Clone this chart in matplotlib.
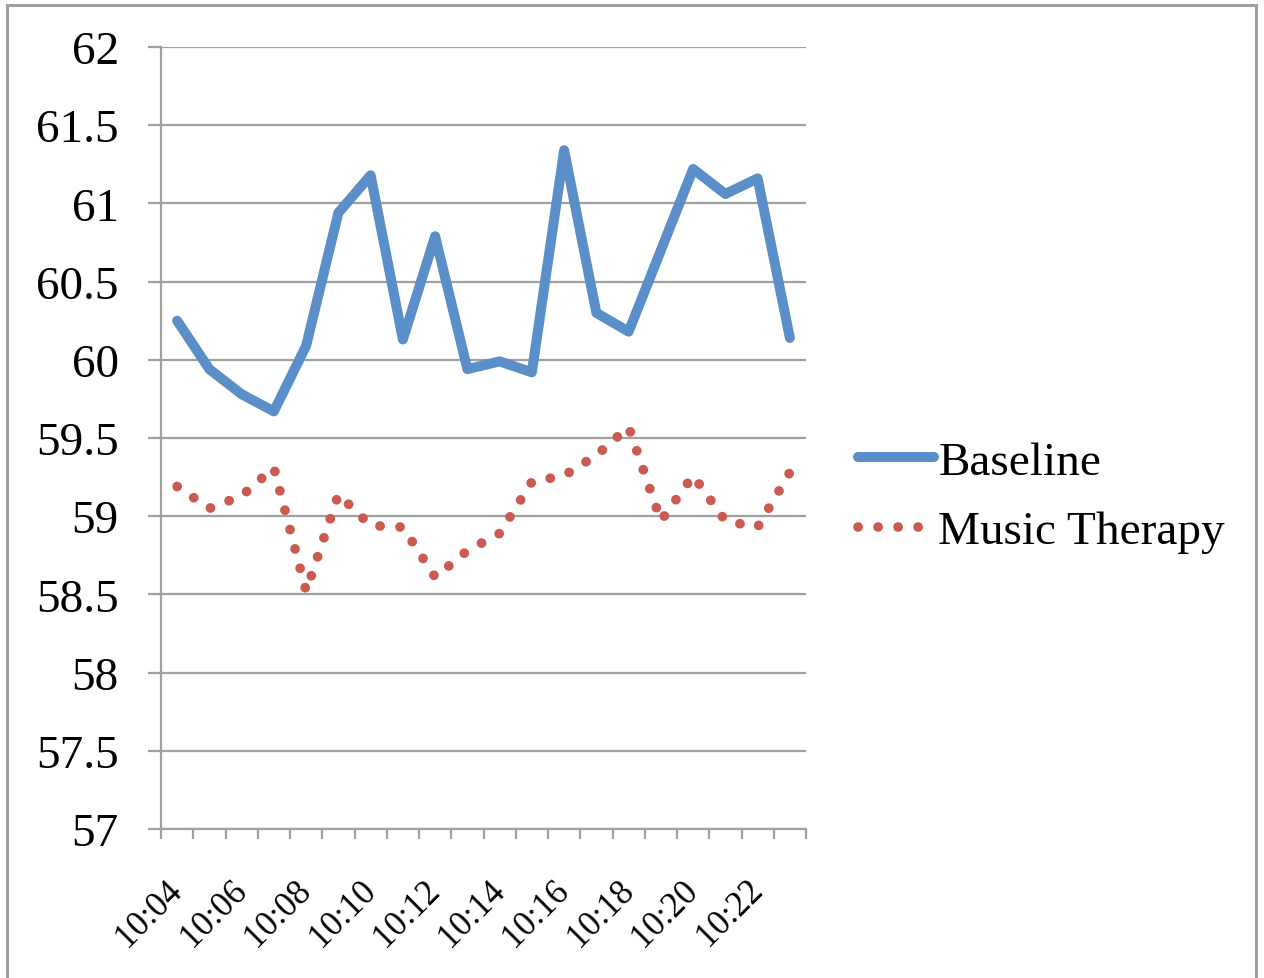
import matplotlib
matplotlib.use("Agg")
import matplotlib.pyplot as plt
from matplotlib.patches import Rectangle
import numpy

times = ['10:04', '10:05', '10:06', '10:07', '10:08', '10:09', '10:10',
         '10:11', '10:12', '10:13', '10:14', '10:15', '10:16', '10:17',
         '10:18', '10:19', '10:20', '10:21', '10:22', '10:23']

baseline = [60.25, 59.94, 59.78, 59.67, 60.09, 60.94, 61.18, 60.13, 60.79, 59.94,
            59.99, 59.92, 61.34, 60.30, 60.18, 60.70, 61.22, 61.06, 61.16, 60.14]

music = [59.19, 59.05, 59.13, 59.31, 58.52, 59.14, 58.94, 58.93, 58.61, 58.78,
         58.89, 59.22, 59.26, 59.39, 59.57, 58.97, 59.26, 58.97, 58.93, 59.28]

yticks = [57, 57.5, 58, 58.5, 59, 59.5, 60, 60.5, 61, 61.5, 62]

plt.rcParams['font.family'] = ['Liberation Serif', 'DejaVu Serif']
gray = '#A0A0A0'

fig = plt.figure(figsize=(12.64, 9.79), dpi=100)
ax = fig.add_axes([161/1264, 1 - 830/979, 645/1264, 782/979])

x = numpy.arange(len(times))
ax.plot(x, baseline, color='#5B8FC9', lw=7.2, solid_joinstyle='round',
        solid_capstyle='round', label='Baseline', zorder=3)
# round-dot line: near-zero dashes with round caps
ax.plot(x, music, color='#CB5A50', lw=7, linestyle=(0, (0.01, 2.05)),
        dash_capstyle='round', label='Music Therapy', zorder=3)

ax.set_xlim(-0.5, len(times) - 0.5)
ax.set_ylim(57, 62)

# y axis: gridlines run through the outward tick marks
ax.set_yticks(yticks)
ax.set_yticklabels(['57', '57.5', '58', '58.5', '59', '59.5', '60', '60.5', '61', '61.5', '62'])
ax.yaxis.grid(True, color=gray, lw=1.6)
ax.tick_params(axis='y', length=9.4, width=1.6, color=gray, pad=21, labelsize=34)

# x axis: tick marks between categories, labels on every other category
ax.set_xticks(x[::2])
ax.set_xticklabels(times[::2])
ax.set_xticks(numpy.arange(-0.5, len(times), 1), minor=True)
ax.tick_params(axis='x', which='major', length=0, pad=40, labelsize=25)
ax.tick_params(axis='x', which='minor', length=7.4, width=1.6, color=gray)
for lbl in ax.get_xticklabels():
    lbl.set_rotation(45)
    lbl.set_ha('right')
    lbl.set_va('center')
    lbl.set_rotation_mode('anchor')

for side in ['top', 'right']:
    ax.spines[side].set_visible(False)
for side in ['left', 'bottom']:
    ax.spines[side].set_color(gray)
    ax.spines[side].set_linewidth(1.6)
ax.set_axisbelow(True)

fig.legend(loc='center left', bbox_to_anchor=(858/1264, 1 - 498/979),
           frameon=False, fontsize=34, handlelength=1.6, handletextpad=0.1,
           borderpad=0, borderaxespad=0, labelspacing=0.56)

# chart border
fig.patches.append(Rectangle((7/1264, -0.05), 1249/1264, 1.05 - 6/979,
                             transform=fig.transFigure, fill=False,
                             edgecolor=gray, lw=2.2))

fig.savefig('out.png', dpi=100)
